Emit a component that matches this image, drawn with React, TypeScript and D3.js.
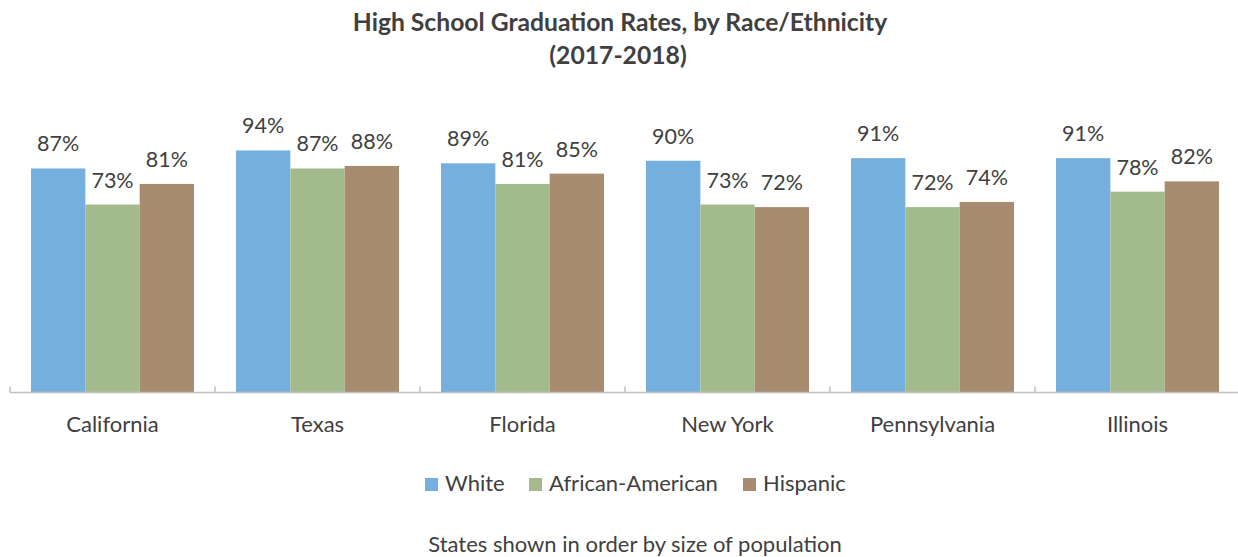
import React from "react";
import * as d3 from "d3";

// chart data
const states = ["California", "Texas", "Florida", "New York", "Pennsylvania", "Illinois"];
const groups = ["White", "African-American", "Hispanic"];
const white = [87, 94, 89, 90, 91, 91];
const africanAmerican = [73, 87, 81, 73, 72, 78];
const hispanic = [81, 88, 85, 72, 74, 82];
const colors = ["#74afdd", "#a3bb8c", "#a88c6f"];

const W = 1238;
const H = 557;
const FONT = "Lato, 'Open Sans', sans-serif";
const TEXT = "#404040";

export default function App() {
  const series = [white, africanAmerican, hispanic];

  const x0 = d3.scaleBand<string>().domain(states).range([10, 1240]).padding(0);
  const x1 = d3
    .scaleBand<string>()
    .domain(groups)
    .range([0, x0.bandwidth()])
    .paddingInner(0)
    .paddingOuter(0.387);
  const y = d3.scaleLinear().domain([0, 100]).range([392.5, 135]);

  const legendX = [425, 529, 743];

  return (
    <svg
      width={W}
      height={H}
      style={{ position: "absolute", left: 0, top: 0, background: "#fff" }}
      fontFamily={FONT}
    >
      <text x={620} y={31} textAnchor="middle" fontWeight="bold" fontSize={24.7} fill={TEXT}>
        High School Graduation Rates, by Race/Ethnicity
      </text>
      <text x={618} y={64} textAnchor="middle" fontWeight="bold" fontSize={24.7} fill={TEXT}>
        (2017-2018)
      </text>

      {states.map((s, i) => (
        <g key={s} transform={`translate(${x0(s)},0)`}>
          {groups.map((g, j) => {
            const v = series[j][i];
            const bx = x1(g)!;
            return (
              <g key={g}>
                <rect
                  x={bx}
                  y={y(v)}
                  width={x1.bandwidth()}
                  height={y(0) - y(v)}
                  fill={colors[j]}
                />
                <text
                  x={bx + x1.bandwidth() / 2}
                  y={y(v) - 17}
                  textAnchor="middle"
                  fontSize={21.5}
                  fill={TEXT}
                >
                  {v}%
                </text>
              </g>
            );
          })}
          <text
            x={x0.bandwidth() / 2}
            y={432}
            textAnchor="middle"
            fontSize={22}
            fill={TEXT}
          >
            {s}
          </text>
        </g>
      ))}

      {/* category axis */}
      <line x1={10} x2={1240} y1={y(0)} y2={y(0)} stroke="#bfbfbf" strokeWidth={1.5} />
      {states.map((s) => (
        <line
          key={s}
          x1={x0(s)}
          x2={x0(s)}
          y1={y(0)}
          y2={y(0) - 6}
          stroke="#bfbfbf"
          strokeWidth={1.5}
        />
      ))}

      {/* legend */}
      {groups.map((g, j) => (
        <g key={g}>
          <rect x={legendX[j]} y={478} width={13} height={13} fill={colors[j]} />
          <text x={legendX[j] + 20} y={491} fontSize={22} fill={TEXT}>
            {g}
          </text>
        </g>
      ))}

      <text x={635} y={552} textAnchor="middle" fontSize={22} fill={TEXT}>
        States shown in order by size of population
      </text>
    </svg>
  );
}
